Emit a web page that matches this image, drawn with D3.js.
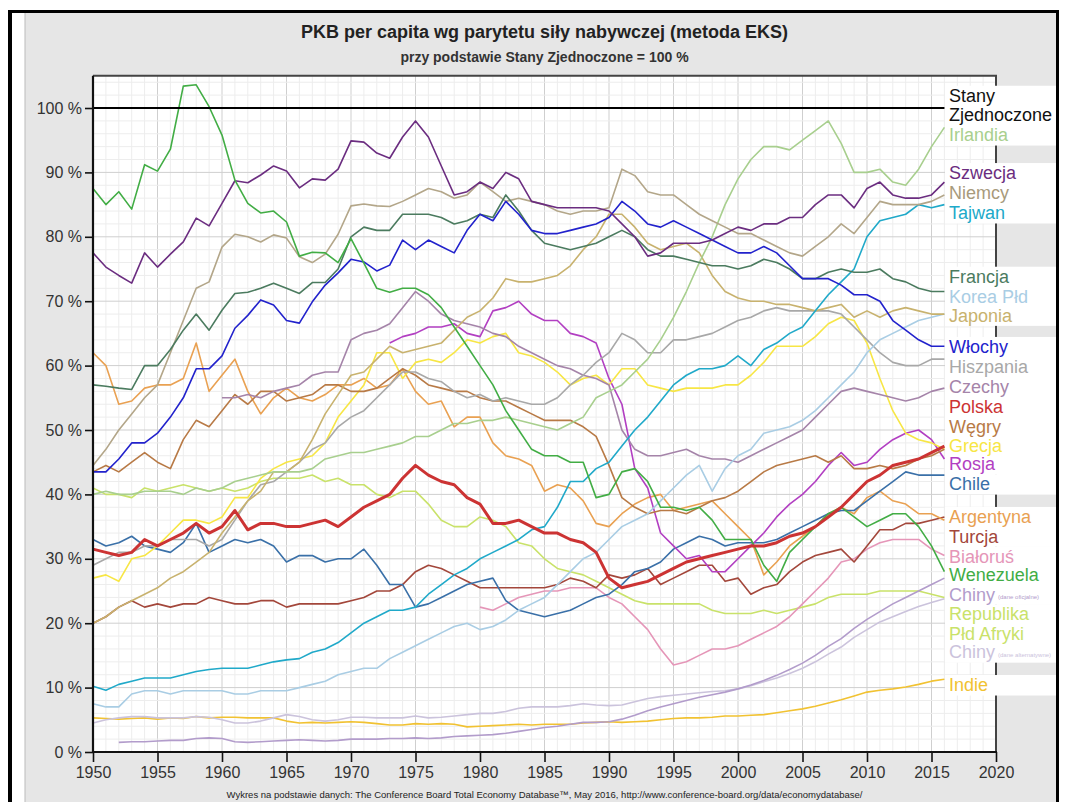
<!DOCTYPE html>
<html lang="pl">
<head>
<meta charset="UTF-8">
<title>PKB per capita wg parytetu siły nabywczej</title>
<script src="https://d3js.org/d3.v7.min.js"></script>
<style>
  body { margin: 0; background: #fff; }
  svg { display: block; font-family: "Liberation Sans", Arial, sans-serif; }
</style>
</head>
<body>
<div id="chart"></div>
<script>
// values: % of US GDP per capita (EKS PPP), one value per year from the series' start year
const wenezuela = [87.5,85,87,84.3,91.2,90.2,93.6,103.4,103.6,100.2, 95.8,88.8,85.2,83.7,84,82.3,77,77.6,77.5,76,
  79.7,75.9,72,71.4,72,72,71,69,66,63, 60,57,53,50,47,46,46,45,45,39.5, 40,43.5,44,42,38,38,37.5,38,36,33,
  33,33,29,26.5,31,33,35,37,38,36.5, 35,36,37,37,35,32,28];
const szwecja = [77.5,75.3,74,72.8,77.5,75.3,77.3,79.2,82.9,81.7, 85.2,88.7,88.4,89.6,91,90.2,87.6,89,88.8,90.5,
  94.9,94.7,93,92.2,95.5,98,95.5,91,86.5,87, 88.5,87.5,90,89,85.5,85,84.5,84.5,84.5,84.5, 84,82,80,77,77.5,79,79,79,79.5,80.5,
  81.5,81,82,82,83,83,85,86.5,86.5,84.5, 87.5,88.5,86.5,86,86,86.5,88.5];
const niemcy = [44.5,47,50,52.5,55,57,62,67,72,73, 78.4,80.4,80,79.2,80.3,79.8,76.9,76,77.3,80.4,
  84.8,85.1,84.8,84.7,85.5,86.5,87.5,87,86,86.5, 88.5,87,85.5,86,85.5,85,84,83.5,84,84, 84.5,90.5,89.5,87,86.5,86.5,85,83.5,82.5,81.5,
  80.5,80.5,79.5,78.5,77.5,77,78.5,80,82,80.5, 83,85.5,85,85,85,85.5,86.5];
const tajwan = [10.2,9.6,10.5,11,11.5,11.5,11.5,12,12.5,12.8, 13,13,13,13.5,14,14.3,14.5,15.5,16,17,
  18.5,20,21,22,22,22.5,24.5,26,27.5,28.5, 30,31,32,33,34.5,35,38,42,42,44, 45,47.5,50,52,54.5,57,58.5,59.5,59.5,60,
  61.5,60,62.5,63.5,65,66,68.5,71,73,75, 80,82.5,83,83.5,85,84.5,85];
const francja = [57,56.8,56.5,56.3,60,60,62.5,65.5,68,65.5, 68.6,71.2,71.4,72,72.8,72,71.2,72.9,72.9,75,
  80,81.5,81,81,83.5,83.5,83.5,83,82,82.5, 83.5,83,86.5,84,81,79,78.5,78,78.5,79, 80,81,80,78,77,77,76.5,76,75.5,75.5,
  75,75.5,76.5,76,75,73.5,73.5,74.5,75,74.5, 74.5,75,73.5,73,72,71.5,71.5];
const korea = [7.5,7,7,9,9.5,9.5,9,9.5,9.5,9.5, 9.5,9,9,9.5,9.5,9.5,10,10.5,11,12,
  12.5,13,13,14.5,15.5,16.5,17.5,18.5,19.5,20, 19,19.5,20.5,22,23,24,26,28,30,31, 33,35,36,37,39,41,43,44.5,40.5,44,
  46,47,49.5,50,50.5,51.5,53,55,57,59, 62,64,65,66,67,67.5,68];
const japonia = [20,21,22.5,23.5,24.5,25.5,27,28,29.5,31, 34,36.5,39,40.5,43.5,43.5,45,48.5,52.5,55.5,
  58.5,59,61,63,62,62.5,63,63.5,65.5,67.5, 68.5,70.5,73.5,73,73,73.5,74,75.5,78,80, 83.5,83.5,81.5,79,78,78.5,79,77.5,74,71.5,
  70.5,70,70,69.5,69.5,69,68.5,69,69.5,67.5, 68.5,67.5,68.5,69,68.5,68,68];
const wlochy = [43.5,43.5,45.5,48,48,49.5,52,55,59.5,59.5, 61.5,65.8,67.8,70.2,69.4,67,66.6,69.9,72.5,74.4,
  76.5,76.1,74.7,75.6,79.5,78,79.5,78.5,77.5,81, 83.5,82.5,85.5,83.5,81,80.5,80.5,81,81.5,82, 83,85.5,84,82,81.5,82.5,81.5,80.5,79.5,78.5,
  77.5,77.5,78.5,77.5,75.5,73.5,73.5,73.5,72.5,71, 71,70,67,65.5,64,63,63];
const hiszpania = [29,30,31,31,32,32,33,33,33,32, 33,36,39,41.5,42,43.5,45,47,48,50.5,
  52,53,55,57,59,59,58,57.5,56,55, 55.5,54.5,55,54.5,54,54,55,57,58.5,60.5, 62,65,64,62,62,64,64,64.5,65,66,
  67,67.5,68.5,69,68.5,68.5,68.5,68.5,68,66, 64,62,60.5,60,60,61,61];
const czechy = [55,55,55.5,55,56,56.5,57,58.5,59,59,
  64,65,65.5,66.5,69,71.5,70,68,67,66.5, 66,65,64.5,63,62,61,60,59.5,58.5,58, 57,50,47,46,46,46.5,47,46,45.5,45.5,
  45,46,47,48,49,50,52,54,56,56.5, 56,55.5,55,54.5,55,56,56.5];
const polska = [31.5,31,30.5,31,33,32,33,34,35.5,34, 35,37.5,34.5,35.5,35.5,35,35,35.5,36,35,
  36.5,38,39,40,42.5,44.5,43,42,41.5,39.5, 38.5,35.5,35.5,36,35,34,34,33,32.5,31, 27,25.5,26,26.5,27.5,28.5,29.5,30,30.5,31,
  31.5,32,32,32.5,33.5,34,35,36.5,38,40, 42,43,44.5,45,45.5,46.5,47.5];
const wegry = [43.5,44.5,43.5,45,46.5,45,44,48.5,51.5,50.5, 53,55.5,54,56,56,54.5,55,55.5,57,57,
  56,56,56.5,58,59.5,58.5,57,56.5,56,56, 55,54.5,54.5,53.5,52.5,51.5,51.5,51.5,50.5,49, 44.5,39.5,38,37,37.5,37.5,37,38,39,39.5,
  40.5,42,43.5,44.5,45,45.5,46,45,46,44, 44,44.5,44,44.5,45.5,46,47];
const grecja = [27,27.5,26.5,30,30.5,32,34,36,36,35.5, 36.5,39.5,39.5,42.5,44,45,45.5,46,48,52,
  54.5,57,62,62,58,60.5,61,60.5,62,64, 63.5,64.5,65,62,61.5,60.5,59,57,58,58.5, 57,59.5,59.5,57,56.5,56,56.5,56.5,56.5,57,
  57,58.5,60.5,63,63,63,64.5,66.5,67.5,67, 63.5,58,53,49.5,48.5,48,47];
const rosja = [63.5,64.5,65,66,66,66.5,65, 64.5,68.5,69,70,68,67,67,65,64.5,63.5,
  58,54,44,41,34,32,30,30.5,28,28, 30,32,34,36.5,38.5,40,42,44.5,46.5,44.5, 45,47,48.5,49.5,50,48.5,45.5];
const chile = [33,32,32.5,33.5,32,31.5,31,32.5,35.5,31, 32,33,32.5,33,32,29.5,30.5,30.5,29.5,30,
  30,31.5,29,26,26,22.5,23,24,25,26, 26.5,27,23.5,22,21.5,21,21.5,22,23,24, 24.5,26,28,28.5,29.5,31.5,32.5,33.5,33,32,
  32.5,32.5,32.5,33,34,35,36,37,37.5,37.5, 39,40.5,42,43.5,43,43,43];
const argentyna = [62,60,54,54.5,56.5,57,57,58,63.5,56, 58.5,61,56,52.5,55,56.5,55,54.5,55.5,57,
  57,58,56.5,57,59.5,56,54,54.5,50.5,52, 52,48,46,45.5,44.5,40.5,41.5,41,39,35.5, 35,37,38.5,39.5,40,37.5,38,38.5,39,37,
  35,33,27.5,29.5,32,33.5,35,37,38,37, 39.5,40.5,39,38.5,37,37,36];
const turcja = [20,21,22.5,23.5,22.5,23,22.5,23,23,24, 23.5,23,23,23.5,23.5,22.5,23,23,23,23,
  23.5,24,25,25,26,28,29,28.5,27.5,26.5, 25.5,25.5,25.5,25.5,25.5,25.5,26,27,26.5,25.5, 27.5,27,27.5,28.5,26,27,28,29,29,26.5,
  27,24.5,25.5,26,28,29.5,30.5,31,31.5,29.5, 32,34.5,34.5,35.5,35.5,36,36.5];
const bialorus = [22.5,22,23,24,24.5,25,25,25.5,25.5,25.5,
  24,23,21,19,16,13.5,14,15,16,16, 16.5,17.5,18.5,19.5,21,23,25,27,29.5,30, 31.5,32.5,33,33,33,31.5,30.5];
const chinyOficjalne = [1.5,1.6,1.6,1.7,1.8,1.8,2.1,2.2, 2.1,1.6,1.5,1.6,1.7,1.8,1.9,1.8,1.7,1.8,
  2,2,2,2.1,2.1,2.2,2.1,2.2,2.4,2.5, 2.6,2.7,2.9,3.2,3.5,3.8,4,4.3,4.6,4.6, 4.7,5.1,5.7,6.4,7,7.5,8,8.5,8.9,9.3,
  9.8,10.4,11.1,11.9,12.8,13.8,15,16.4,17.6,19.2, 20.6,21.8,23,24,25,26,27];
const rpa = [41,40,40,39.5,41,40.5,41,41.5,41,40.5, 41,40.5,41,42,42.5,42.5,42.5,43,42,42.5,
  41.5,41.5,40,39.5,40.5,40.5,38.5,36,35,35, 36.5,36,35,32.5,32,30,28.5,28,27.5,26.5, 25.5,24.5,23.5,23,23,23,23,23,22,21.5,
  21.5,21.5,22,21.5,22,22.5,23,24,24.5,24.5, 24.5,25,25,25,25,24.5,24];
const chinyAlternatywne = [4.5,5,5.3,5.5,5.5,5.3,5.3,5.3,5.5,5.4, 5,4.5,4.5,4.8,5.3,5.8,5.5,5,4.8,5,
  5.4,5.4,5.3,5.3,5.3,5.6,5.3,5.4,5.6,5.8, 6,6,6.3,6.8,7,7,7,7.2,7.5,7.3, 7.2,7.3,7.8,8.3,8.6,8.8,9,9.2,9.4,9.5,
  9.8,10.3,10.9,11.5,12.2,13,14,15.2,16.3,17.8, 19,20.2,21,21.8,22.6,23.2,23.8];
const irlandia = [40,40.5,40,40,40.5,40.5,40.5,40,41,40.5, 41,42,42.5,43,43.5,43.5,43.5,44,45.5,46,
  46.5,46.5,47,47.5,48,49,49,50,51,51, 51.5,51.5,52,51.5,51,50.5,50,51,52,55, 56,57,59,61,64,67.5,71.5,76,80,85,
  89,92,94,94,93.5,95,96.5,98,94.5,90, 90,90.5,88.5,88,90.5,94,97];
const indie = [5.3,5.2,5.1,5.2,5.3,5.1,5.3,5.2,5.5,5.3, 5.4,5.4,5.3,5.3,5.3,4.8,4.5,4.6,4.5,4.6,
  4.7,4.6,4.4,4.2,4.2,4.4,4.3,4.4,4.3,3.9, 4,4.1,4.2,4.3,4.2,4.3,4.3,4.3,4.5,4.6, 4.7,4.6,4.7,4.8,5,5.2,5.3,5.3,5.4,5.6,
  5.6,5.7,5.8,6.1,6.4,6.7,7.1,7.6,8.1,8.7, 9.3,9.6,9.8,10.1,10.5,11,11.3];

const yearTicks = d3.range(1950, 2021, 5);
const pctTicks = d3.range(0, 101, 10);
const usLevel = 100;
const usYears = [1950, 2016];

const series = [
  { name: "Indie", values: indie, start: 1950, color: "#f1c232" },
  { name: "Chiny alt", values: chinyAlternatywne, start: 1950, color: "#cbc3dc" },
  { name: "RPA", values: rpa, start: 1950, color: "#c9e26a" },
  { name: "Chiny", values: chinyOficjalne, start: 1952, color: "#b29ccb" },
  { name: "Białoruś", values: bialorus, start: 1980, color: "#e596b8" },
  { name: "Turcja", values: turcja, start: 1950, color: "#a3473b" },
  { name: "Argentyna", values: argentyna, start: 1950, color: "#e9a152" },
  { name: "Chile", values: chile, start: 1950, color: "#3a70a8" },
  { name: "Rosja", values: rosja, start: 1973, color: "#b23fc2" },
  { name: "Grecja", values: grecja, start: 1950, color: "#f7e645" },
  { name: "Węgry", values: wegry, start: 1950, color: "#b87a46" },
  { name: "Czechy", values: czechy, start: 1960, color: "#a584a9" },
  { name: "Hiszpania", values: hiszpania, start: 1950, color: "#a8a8a8" },
  { name: "Korea", values: korea, start: 1950, color: "#a9cde4" },
  { name: "Japonia", values: japonia, start: 1950, color: "#c8b26e" },
  { name: "Tajwan", values: tajwan, start: 1950, color: "#20a9c9" },
  { name: "Irlandia", values: irlandia, start: 1950, color: "#a8cf8e" },
  { name: "Niemcy", values: niemcy, start: 1950, color: "#b3a689" },
  { name: "Francja", values: francja, start: 1950, color: "#4b7b5f" },
  { name: "Włochy", values: wlochy, start: 1950, color: "#2222cc" },
  { name: "Szwecja", values: szwecja, start: 1950, color: "#6b2d80" },
  { name: "Wenezuela", values: wenezuela, start: 1950, color: "#42ad45" },
  { name: "Polska", values: polska, start: 1950, color: "#cc3333", width: 3 }
];

// legend text, colour, vertical place (in % units)
const labels = [
  ["Stany", "#111", 101.9], ["Zjednoczone", "#111", 98.9], ["Irlandia", "#a8cf8e", 95.8],
  ["Szwecja", "#6b2d80", 89.9], ["Niemcy", "#a89a7c", 86.8], ["Tajwan", "#20a9c9", 83.7],
  ["Francja", "#4b7b5f", 73.8], ["Korea Płd", "#a9cde4", 70.7], ["Japonia", "#c8b26e", 67.8],
  ["Włochy", "#2222cc", 62.9], ["Hiszpania", "#a8a8a8", 59.8], ["Czechy", "#a584a9", 56.7],
  ["Polska", "#cc3333", 53.6], ["Węgry", "#b87a46", 50.5], ["Grecja", "#f7e645", 47.6],
  ["Rosja", "#b23fc2", 44.7], ["Chile", "#3a70a8", 41.6],
  ["Argentyna", "#e9a152", 36.5], ["Turcja", "#a3473b", 33.5], ["Białoruś", "#e596b8", 30.4],
  ["Wenezuela", "#42ad45", 27.5], ["Chiny", "#b29ccb", 24.5, "(dane oficjalne)"],
  ["Republika", "#c9e26a", 21.4], ["Płd Afryki", "#c9e26a", 18.4],
  ["Chiny", "#cbc3dc", 15.5, "(dane alternatywne)"], ["Indie", "#f1c232", 10.4]
];

const W = 1068, H = 802;
const svg = d3.select("#chart").append("svg").attr("width", W).attr("height", H);

// frame
svg.append("rect").attr("x", 25).attr("y", 12).attr("width", 1031).attr("height", H - 12).attr("fill", "#e6e6e6");
svg.append("line").attr("x1", 25).attr("x2", 25).attr("y1", 12).attr("y2", H).attr("stroke", "#bbb");
svg.append("rect").attr("x", 8).attr("y", 10).attr("width", 4).attr("height", H - 10).attr("fill", "#000");
svg.append("rect").attr("x", 8).attr("y", 10).attr("width", 1051).attr("height", 3).attr("fill", "#000");
svg.append("rect").attr("x", 1056).attr("y", 10).attr("width", 3).attr("height", H - 10).attr("fill", "#000");

const x = d3.scaleLinear().domain([1950, 2020]).range([93, 996]);
const y = d3.scaleLinear().domain([0, 105]).range([752, 752 - 105 * 6.44]);
const [x0, x1] = x.range(), [y0, y1] = y.range();

svg.append("rect").attr("x", x0).attr("y", y1).attr("width", x1 - x0).attr("height", y0 - y1).attr("fill", "#fff");

// grid
const grid = svg.append("g");
grid.selectAll(".vm").data(d3.range(1951, 2020)).join("line")
  .attr("x1", d => x(d)).attr("x2", d => x(d)).attr("y1", y1).attr("y2", y0)
  .attr("stroke", d => d % 5 ? "#ededed" : "#cfcfcf").attr("stroke-width", 1);
grid.selectAll(".hm").data(d3.range(2, 105, 2)).join("line")
  .attr("x1", x0).attr("x2", x1).attr("y1", d => y(d)).attr("y2", d => y(d))
  .attr("stroke", d => d % 10 ? "#ededed" : "#cfcfcf").attr("stroke-width", 1);

// border
svg.append("path").attr("d", `M${x0},${y1}H${x1}V${y0}`).attr("fill", "none").attr("stroke", "#444").attr("stroke-width", 2);

// lines
const line = d3.line().x(d => x(d[0])).y(d => y(d[1])).curve(d3.curveLinear);
svg.append("g").selectAll("path").data(series).join("path")
  .attr("d", s => line(s.values.map((v, i) => [s.start + i, v])))
  .attr("fill", "none")
  .attr("stroke", s => s.color)
  .attr("stroke-width", s => s.width || 1.6)
  .attr("stroke-linejoin", "round");

svg.append("line").attr("x1", x(usYears[0])).attr("x2", x(usYears[1]))
  .attr("y1", y(usLevel)).attr("y2", y(usLevel)).attr("stroke", "#000").attr("stroke-width", 2.2);

// axes
const yAxis = svg.append("g").attr("transform", `translate(${x0},0)`)
  .call(d3.axisLeft(y).tickValues(pctTicks).tickSize(8).tickFormat(d => d + " %"));
const xAxis = svg.append("g").attr("transform", `translate(0,${y0})`)
  .call(d3.axisBottom(x).tickValues(yearTicks).tickSize(10).tickFormat(d3.format("d")));
[yAxis, xAxis].forEach(a => {
  a.select(".domain").remove();
  a.selectAll(".tick line").attr("stroke", "#111").attr("stroke-width", 1.6);
  a.selectAll(".tick text").attr("font-size", 16).attr("fill", "#333")
    .attr("font-family", "Liberation Sans, Arial, sans-serif");
});
yAxis.selectAll(".tick text").attr("x", -11);
xAxis.selectAll(".tick text").attr("y", 15);
svg.append("line").attr("x1", x0).attr("x2", x0).attr("y1", y1).attr("y2", y0 + 1).attr("stroke", "#111").attr("stroke-width", 2.2);
svg.append("line").attr("x1", x0 - 1).attr("x2", x1 + 1).attr("y1", y0).attr("y2", y0).attr("stroke", "#111").attr("stroke-width", 2.2);

// legend
const lg = svg.append("g");
lg.selectAll("rect").data(labels).join("rect")
  .attr("x", 945).attr("width", 1056 - 945)
  .attr("y", d => y(d[2]) - 10).attr("height", 20.5)
  .attr("fill", "#fff");
const lt = lg.selectAll("text").data(labels).join("text")
  .attr("x", 949).attr("y", d => y(d[2]))
  .attr("dy", "0.35em")
  .attr("font-size", 18).attr("fill", d => d[1])
  .text(d => d[0]);
lt.filter(d => d[3]).append("tspan").attr("dx", 3).attr("dy", "-0.2em")
  .attr("font-size", 6).text(d => d[3]);

// titles
svg.append("text").attr("x", (x0 + x1) / 2).attr("y", 38).attr("text-anchor", "middle")
  .attr("font-size", 18).attr("font-weight", "bold").attr("fill", "#222")
  .text("PKB per capita wg parytetu siły nabywczej (metoda EKS)");
svg.append("text").attr("x", (x0 + x1) / 2).attr("y", 62).attr("text-anchor", "middle")
  .attr("font-size", 14).attr("font-weight", "bold").attr("fill", "#333")
  .text("przy podstawie Stany Zjednoczone = 100 %");
svg.append("text").attr("x", (x0 + x1) / 2).attr("y", 798).attr("text-anchor", "middle")
  .attr("font-size", 9.5).attr("fill", "#222")
  .text("Wykres na podstawie danych: The Conference Board Total  Economy  Database™, May 2016, http://www.conference-board.org/data/economydatabase/");
</script>
</body>
</html>
